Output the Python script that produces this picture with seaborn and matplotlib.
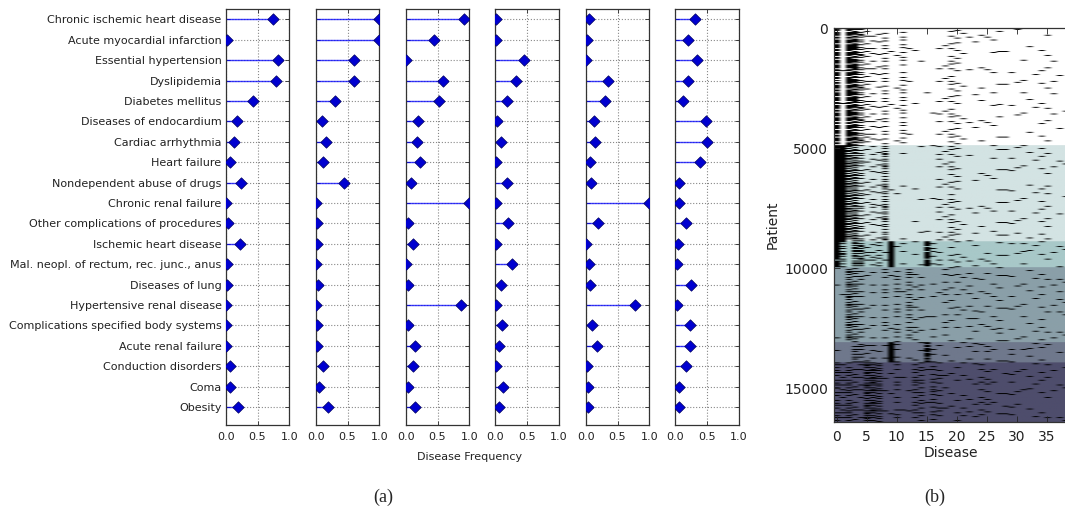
import numpy as np
import pandas as pd
import matplotlib
matplotlib.use("Agg")
import matplotlib.pyplot as plt
import seaborn as sns
from matplotlib.colors import to_rgb

diseases = [
    "Chronic ischemic heart disease",
    "Acute myocardial infarction",
    "Essential hypertension",
    "Dyslipidemia",
    "Diabetes mellitus",
    "Diseases of endocardium",
    "Cardiac arrhythmia",
    "Heart failure",
    "Nondependent abuse of drugs",
    "Chronic renal failure",
    "Other complications of procedures",
    "Ischemic heart disease",
    "Mal. neopl. of rectum, rec. junc., anus",
    "Diseases of lung",
    "Hypertensive renal disease",
    "Complications specified body systems",
    "Acute renal failure",
    "Conduction disorders",
    "Coma",
    "Obesity",
]

# disease frequency per patient cluster (one panel each)
freq_c1 = [0.75, 0.02, 0.82, 0.79, 0.43, 0.18, 0.13, 0.07, 0.24, 0.01,
           0.03, 0.23, 0.02, 0.02, 0.01, 0.01, 0.01, 0.06, 0.06, 0.19]
freq_c2 = [1.00, 1.00, 0.61, 0.61, 0.30, 0.10, 0.16, 0.12, 0.44, 0.01,
           0.02, 0.02, 0.01, 0.03, 0.01, 0.02, 0.02, 0.11, 0.05, 0.19]
freq_c3 = [0.92, 0.45, 0.01, 0.58, 0.53, 0.20, 0.18, 0.22, 0.09, 1.00,
           0.03, 0.12, 0.01, 0.04, 0.87, 0.04, 0.15, 0.11, 0.04, 0.15]
freq_c4 = [0.02, 0.01, 0.46, 0.33, 0.19, 0.03, 0.09, 0.01, 0.19, 0.02,
           0.21, 0.01, 0.26, 0.10, 0.01, 0.11, 0.07, 0.02, 0.12, 0.07]
freq_c5 = [0.05, 0.02, 0.01, 0.35, 0.30, 0.13, 0.14, 0.06, 0.09, 1.00,
           0.20, 0.01, 0.05, 0.06, 0.78, 0.10, 0.18, 0.02, 0.04, 0.03]
freq_c6 = [0.32, 0.20, 0.34, 0.21, 0.12, 0.49, 0.50, 0.40, 0.07, 0.06,
           0.17, 0.04, 0.03, 0.25, 0.03, 0.23, 0.24, 0.18, 0.06, 0.06]
panel_freqs = [freq_c1, freq_c2, freq_c3, freq_c4, freq_c5, freq_c6]

# patient x disease matrix (b): column of each listed disease
heat_cols = [0, 1, 2, 3, 4, 5, 6, 7, 8, 9, 10, 11, 12, 13, 15, 14, 16, 17, 18, 19]
# frequency of the remaining diseases, columns 20-38
other_c1 = [0.12, 0.03, 0.02, 0.02, 0.05, 0.02, 0.06, 0.04, 0.02, 0.02,
            0.02, 0.04, 0.03, 0.02, 0.05, 0.05, 0.04, 0.02, 0.02]
other_c2 = [0.12, 0.02, 0.03, 0.03, 0.03, 0.02, 0.04, 0.06, 0.05, 0.05,
            0.04, 0.03, 0.03, 0.03, 0.08, 0.08, 0.02, 0.02, 0.02]
other_c3 = [0.12, 0.04, 0.03, 0.06, 0.03, 0.08, 0.04, 0.08, 0.03, 0.05,
            0.05, 0.08, 0.05, 0.03, 0.08, 0.05, 0.03, 0.03, 0.03]
other_c4 = [0.08, 0.05, 0.10, 0.08, 0.05, 0.06, 0.05, 0.10, 0.04, 0.05,
            0.04, 0.04, 0.03, 0.03, 0.08, 0.04, 0.03, 0.08, 0.05]
other_c5 = [0.06, 0.05, 0.05, 0.08, 0.05, 0.15, 0.05, 0.06, 0.05, 0.10,
            0.05, 0.06, 0.10, 0.08, 0.05, 0.06, 0.05, 0.05, 0.04]
other_c6 = [0.06, 0.06, 0.05, 0.06, 0.15, 0.12, 0.05, 0.05, 0.08, 0.10,
            0.06, 0.04, 0.05, 0.04, 0.08, 0.06, 0.04, 0.04, 0.03]
other_freqs = [other_c1, other_c2, other_c3, other_c4, other_c5, other_c6]

cluster_bounds = [0, 4900, 8900, 9960, 13100, 13930, 16400]
cluster_colors = ["#ffffff", "#d3e3e3", "#a8c8c8", "#8a9fa8", "#6f788c", "#4e4d6c"]
n_diseases = 39

sns.set_style("ticks")
plt.rcParams["font.family"] = ["DejaVu Sans"]

W, H = 1065, 514
fig = plt.figure(figsize=(W / 100, H / 100), dpi=100)


def px_axes(left, top, right, bottom):
    return fig.add_axes([left / W, 1 - bottom / H, (right - left) / W, (bottom - top) / H])


# (a) disease frequency per cluster
panel_lefts = [225.7, 315.7, 405.7, 495.0, 585.7, 675.0]
for i, (x0, vals) in enumerate(zip(panel_lefts, panel_freqs)):
    ax = px_axes(x0, 9.3, x0 + 63.6, 425.3)
    df = pd.DataFrame({"freq": vals, "pos": np.arange(len(diseases))})
    ax.hlines(df["pos"], 0, df["freq"], color="blue", lw=1, alpha=0.75, zorder=2)
    sns.scatterplot(data=df, x="freq", y="pos", marker="D", s=34, color="#0000d0",
                    edgecolor="#000060", linewidth=0.5, legend=False, ax=ax, zorder=3)
    ax.set_xlim(0, 1)
    ax.set_ylim(19.9, -0.5)
    ax.set_xticks([0, 0.5, 1.0])
    ax.set_xticklabels(["0.0", "0.5", "1.0"], fontsize=8, color="#222222")
    ax.set_yticks(np.arange(len(diseases)))
    if i == 0:
        ax.set_yticklabels(diseases, fontsize=8, color="#222222")
    else:
        ax.set_yticklabels([])
    ax.set_xlabel("")
    ax.set_ylabel("")
    ax.grid(True, linestyle=":", color="#888888", lw=0.8)
    ax.set_axisbelow(True)
    ax.tick_params(direction="in", length=3, width=0.6, top=True, right=True, pad=3)
    ax.tick_params(axis="x", pad=5)
    for sp in ax.spines.values():
        sp.set_color("#333333")
        sp.set_linewidth(0.9)

fig.text(470 / W, 1 - 457 / H, "Disease Frequency", ha="center", va="center",
         fontsize=8, color="#222222")

# (b) patient x disease matrix, one block row per 40 patients;
# each cluster's disease frequencies are shown as a dithered mark density
block = 40
n_rows = cluster_bounds[-1] // block
img = np.ones((n_rows, n_diseases, 3))
j = np.arange(n_diseases)[None, :]
col_shift = (0.7071067812 * j * j + 0.1 * j) % 1.0
for k in range(6):
    full = np.zeros(n_diseases)
    full[heat_cols] = panel_freqs[k]
    full[20:] = other_freqs[k]
    r0 = cluster_bounds[k] // block
    r1 = cluster_bounds[k + 1] // block
    rows = np.arange(r0, r1)[:, None]
    level = (rows * 0.6180339887 + col_shift) % 1.0
    seg = np.empty((r1 - r0, n_diseases, 3))
    seg[:] = to_rgb(cluster_colors[k])
    seg[level < full] = 0.0
    img[r0:r1] = seg

axh = px_axes(833.5, 28.3, 1067.7, 421.8)
axh.imshow(img, aspect="auto", interpolation="antialiased",
           extent=(-0.5, n_diseases - 0.5, cluster_bounds[-1], 0))
axh.set_xlim(-0.5, n_diseases - 0.5)
axh.set_ylim(cluster_bounds[-1], 0)
axh.set_xticks(np.arange(0, 36, 5))
axh.set_yticks([0, 5000, 10000, 15000])
axh.tick_params(direction="in", length=4, width=0.6, top=True, labelsize=10,
                colors="#222222", pad=4)
axh.tick_params(axis="x", pad=6)
axh.set_xlabel("Disease", fontsize=10, color="#222222", labelpad=1)
axh.set_ylabel("Patient", fontsize=10, color="#222222", labelpad=3)
for sp in axh.spines.values():
    sp.set_color("#333333")
    sp.set_linewidth(0.9)

fig.text(383 / W, 1 - 497 / H, "(a)", ha="center", va="center", fontsize=13,
         family=["Liberation Serif"])
fig.text(935 / W, 1 - 497 / H, "(b)", ha="center", va="center", fontsize=13,
         family=["Liberation Serif"])

fig.savefig("out.png", dpi=100)
